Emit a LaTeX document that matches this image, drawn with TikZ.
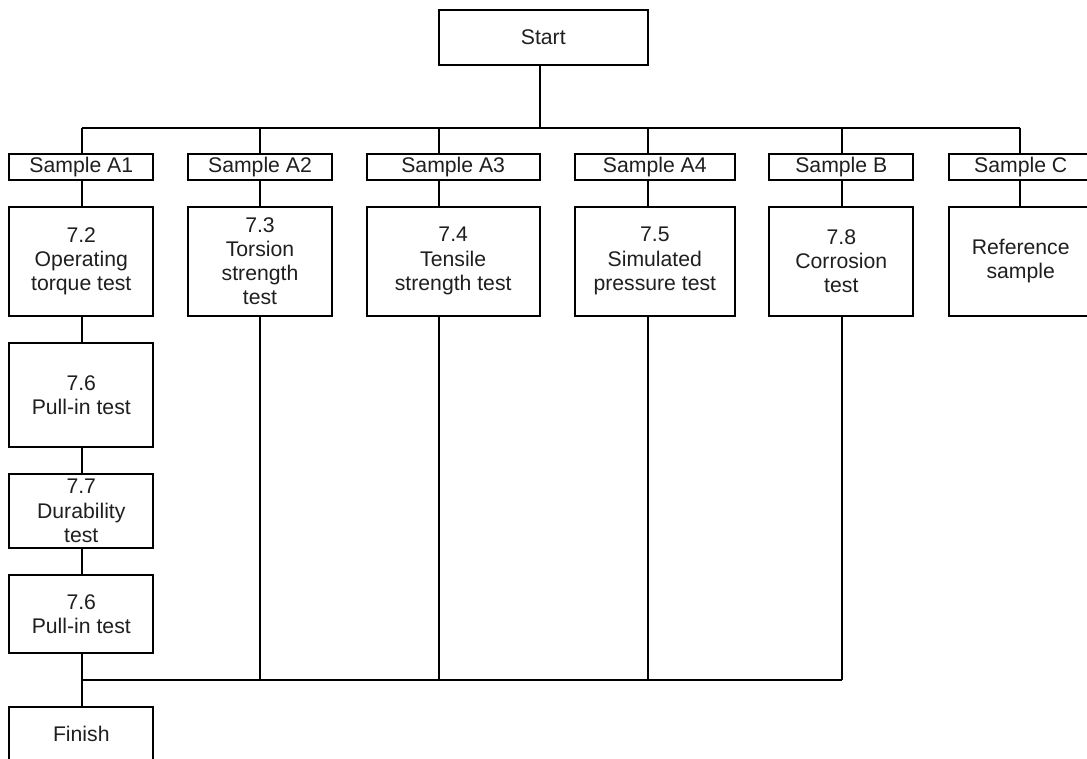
\documentclass[tikz,border=0pt]{standalone}
\usepackage{fontspec}
\setmainfont{Liberation Sans}
\begin{document}
\begin{tikzpicture}[x=1pt,y=-1pt,
  every node/.style={font=\fontsize{21.2}{24.3}\selectfont, text=black!88},
  box/.style={draw=black, line width=2.2pt, inner sep=0pt, align=center, text=black!88},
  sbox/.style={box, minimum height=26pt, text height=15.2pt, text depth=3.4pt},
  conn/.style={draw=black, line width=1.9pt}]
\useasboundingbox (0,0) rectangle (1087,758);
\clip (0,0) rectangle (1087,758);
\fill[white] (0,0) rectangle (1087,758);
% Start
\node[box, minimum width=209.3pt, minimum height=54.7pt] (start) at (543.3,37.3) {Start};
% Sample boxes
\node[sbox, minimum width=144pt] (a1) at (81.3,167) {Sample A1};
\node[sbox, minimum width=144.6pt] (a2) at (260,167) {Sample A2};
\node[sbox, minimum width=173pt] (a3) at (453.2,167) {Sample A3};
\node[sbox, minimum width=160.3pt] (a4) at (654.8,167) {Sample A4};
\node[sbox, minimum width=144pt] (sb) at (841.3,167) {Sample B};
\node[sbox, minimum width=144pt] (sc) at (1020.7,167) {Sample C};
% Test boxes
\node[box, minimum width=144pt, minimum height=109pt] (t1) at (81.3,261.2) {7.2\\Operating\\torque test};
\node[box, minimum width=144.6pt, minimum height=109pt] (t2) at (260,261.2) {7.3\\Torsion\\strength\\test};
\node[box, minimum width=173pt, minimum height=109pt] (t3) at (453.2,261.2) {7.4\\Tensile\\strength test};
\node[box, minimum width=160.3pt, minimum height=109pt] (t4) at (654.8,261.2) {7.5\\Simulated\\pressure test};
\node[box, minimum width=144pt, minimum height=109pt] (t5) at (841.3,261.2) {7.8\\Corrosion\\test};
\node[box, minimum width=144pt, minimum height=109pt] (t6) at (1020.7,261.2) {Reference\\sample};
% A1 chain
\node[box, minimum width=144pt, minimum height=103.4pt] (p1) at (81.3,395) {7.6\\Pull-in test};
\node[box, minimum width=144pt, minimum height=74pt] (dur) at (81.3,511) {7.7\\Durability\\test};
\node[box, minimum width=144pt, minimum height=78.3pt] (p2) at (81.3,614.2) {7.6\\Pull-in test};
\node[box, minimum width=144pt, minimum height=54pt] (fin) at (81.3,734.3) {Finish};
% line positions
\coordinate (bus1) at (540,127.7);
\coordinate (bus2) at (81.7,680);
\coordinate (x1) at (81.7,0);
\coordinate (x2) at (260,0);
\coordinate (x3) at (438.7,0);
\coordinate (x4) at (648,0);
\coordinate (x5) at (841.7,0);
\coordinate (x6) at (1020,0);
% top connectors
\draw[conn] (start.south -| bus1) -- (bus1);
\draw[conn] (x1 |- bus1) -- (x6 |- bus1);
\foreach \i/\s/\t in {1/a1/t1, 2/a2/t2, 3/a3/t3, 4/a4/t4, 5/sb/t5, 6/sc/t6}{
  \draw[conn] (x\i |- bus1) -- (x\i |- \s.north);
  \draw[conn] (x\i |- \s.south) -- (x\i |- \t.north);
}
% A1 chain
\draw[conn] (x1 |- t1.south) -- (x1 |- p1.north);
\draw[conn] (x1 |- p1.south) -- (x1 |- dur.north);
\draw[conn] (x1 |- dur.south) -- (x1 |- p2.north);
\draw[conn] (x1 |- p2.south) -- (x1 |- fin.north);
% bottom bus
\foreach \i/\t in {2/t2, 3/t3, 4/t4, 5/t5}{
  \draw[conn] (x\i |- \t.south) -- (x\i |- bus2);
}
\draw[conn] (bus2) -- (x5 |- bus2);
\end{tikzpicture}
\end{document}
